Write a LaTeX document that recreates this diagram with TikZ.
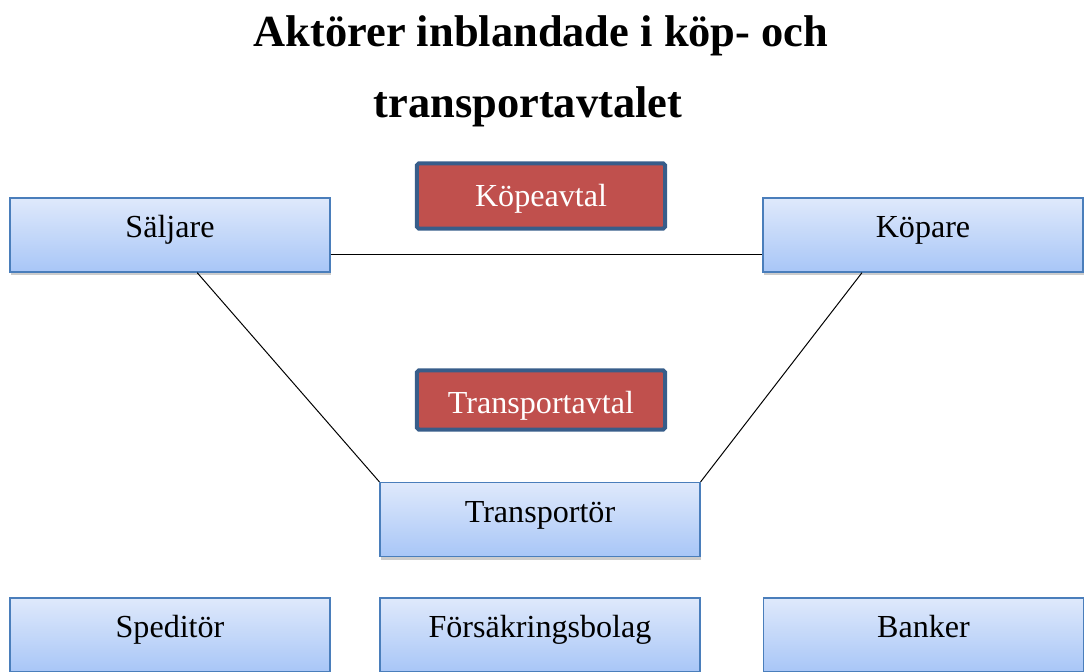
\documentclass[tikz,border=0pt]{standalone}
\usepackage{fontspec}
\setmainfont{Liberation Serif}
\usetikzlibrary{shadows}

\definecolor{boxtop}{HTML}{DFE9FB}
\definecolor{boxbot}{HTML}{A8C6F7}
\definecolor{boxline}{HTML}{4A7EBB}
\definecolor{avtalfill}{HTML}{C0504D}
\definecolor{avtalline}{HTML}{385D8A}

\tikzset{
	aktor/.style={draw=boxline, line width=0.5pt, top color=boxtop, bottom color=boxbot,
		minimum width=129.6pt, minimum height=30pt, inner sep=0pt,
		text height=9pt, text depth=6.6pt,
		font=\fontsize{13}{15}\selectfont,
		drop shadow={shadow xshift=0.6pt, shadow yshift=-1.4pt, opacity=0.4}},
	avtal/.style={draw=avtalline, line width=1.6pt, fill=avtalfill, rounded corners=0.8pt,
		minimum width=100.5pt, inner sep=0pt, text=white,
		text height=10pt, text depth=1.4pt,
		font=\fontsize{13}{15}\selectfont},
	rubrik/.style={font=\fontsize{18}{22}\selectfont\bfseries}
}

\begin{document}
\begin{tikzpicture}[x=0.405pt, y=-0.405pt]
	\useasboundingbox (0,0) rectangle (1084,671);

	% rubrik
	\node[rubrik] (rad1) at (541,36) {Aktörer inblandade i köp- och};
	\node[rubrik] (rad2) at (528,107) {transportavtalet};

	% parterna
	\node[aktor] (saljare) at (170,235) {Säljare};
	\node[aktor] (kopare) at (923,235) {Köpare};
	\node[aktor] (transportor) at (540,519.5) {Transportör};

	% avtalen
	\node[avtal, minimum height=26.5pt] (kopeavtal) at (541,196) {Köpeavtal};
	\node[avtal, minimum height=24pt, text height=11.6pt, text depth=1pt] (transportavtal) at (541,400) {Transportavtal};

	% nedersta raden
	\node[aktor] (speditor) at (170,635) {Speditör};
	\node[aktor] (forsakring) at (540,635) {Försäkringsbolag};
	\node[aktor] (banker) at (923.5,635) {Banker};

	% linjer
	\draw ([yshift=-7.7pt]saljare.east) -- ([yshift=-7.7pt]kopare.west);
	\draw ([xshift=11pt]saljare.south) -- (transportor.north west);
	\draw ([xshift=-24.7pt]kopare.south) -- (transportor.north east);

\end{tikzpicture}
\end{document}
